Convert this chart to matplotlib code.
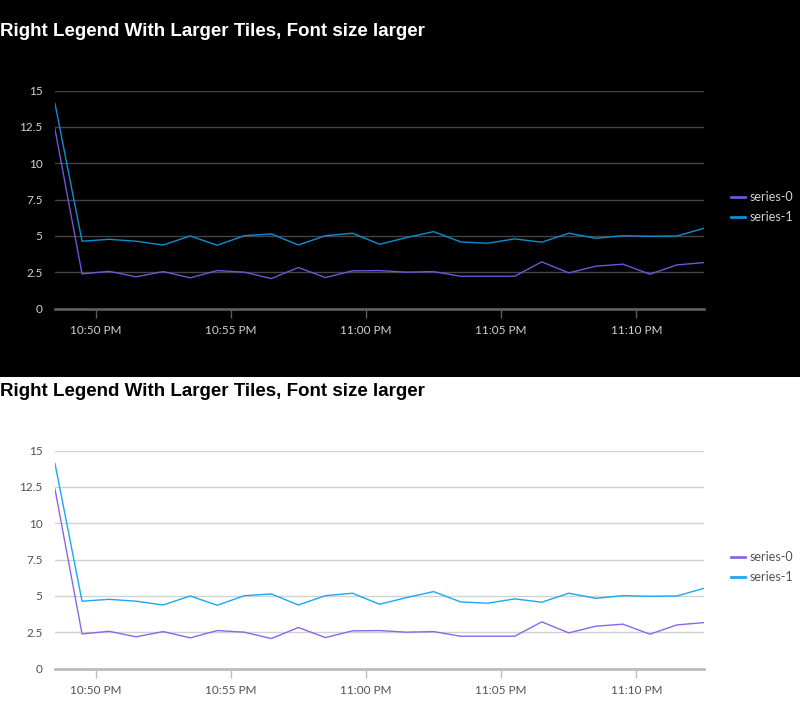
import datetime as dt
import matplotlib
matplotlib.use("Agg")
import matplotlib.pyplot as plt
import matplotlib.dates as mdates
from matplotlib.patches import Rectangle

# data: one point per minute, starting 10:48:30 PM
start = dt.datetime(2024, 1, 1, 22, 48, 30)
n_points = 25
times = [start + dt.timedelta(minutes=i) for i in range(n_points)]

series_0 = [12.34, 2.38, 2.56, 2.18, 2.54, 2.11, 2.61, 2.50, 2.06, 2.82, 2.13, 2.59, 2.61,
            2.50, 2.54, 2.22, 2.22, 2.22, 3.21, 2.45, 2.91, 3.05, 2.36, 3.00, 3.16]
series_1 = [14.10, 4.63, 4.76, 4.63, 4.37, 4.99, 4.35, 5.01, 5.13, 4.37, 5.01, 5.18, 4.42,
            4.88, 5.29, 4.58, 4.49, 4.79, 4.56, 5.18, 4.83, 5.01, 4.97, 4.99, 5.52]
series_names = ["series-0", "series-1"]
y_ticks = [0, 2.5, 5, 7.5, 10, 12.5, 15]
y_tick_labels = ["0", "2.5", "5", "7.5", "10", "12.5", "15"]
title = "Right Legend With Larger Tiles, Font size larger"

W, H = 800, 719
fig = plt.figure(figsize=(W / 100, H / 100), dpi=100)
fig.patch.set_facecolor("white")

# black background for the dark version
fig.add_artist(Rectangle((0, 1 - 377 / H), 1, 377 / H, transform=fig.transFigure,
                         facecolor="black", edgecolor="none", zorder=0))

themes = [
    dict(top=90.5, bottom=308.5, title_y=32, text="#d2d2d2", grid="#444444",
         axis="#5c5c5c", colors=["#7452db", "#0b8fd3"], title_color="white"),
    dict(top=450.5, bottom=668.5, title_y=391, text="#4f5255", grid="#d2d2d2",
         axis="#bcbcbc", colors=["#8a66ee", "#19a8f2"], title_color="black"),
]

left, right = 55, 704
for th in themes:
    ax = fig.add_axes([left / W, 1 - th["bottom"] / H, (right - left) / W,
                       (th["bottom"] - th["top"]) / H])
    ax.patch.set_alpha(0)
    for name, vals, c in zip(series_names, [series_0, series_1], th["colors"]):
        ax.plot(times, vals, color=c, lw=1, label=name, zorder=3)

    ax.set_xlim(times[0], times[-1])
    ax.set_ylim(0, 15)
    ax.set_yticks(y_ticks)
    ax.set_yticklabels(y_tick_labels)
    for y in y_ticks[1:]:
        ax.axhline(y, color=th["grid"], lw=1, zorder=1)
    ax.axhline(0, color=th["axis"], lw=2, zorder=2, clip_on=False)

    ax.xaxis.set_major_locator(mdates.MinuteLocator(byminute=range(0, 60, 5)))
    ax.xaxis.set_major_formatter(mdates.DateFormatter("%I:%M %p"))
    ax.tick_params(axis="x", length=6.5, width=1, color=th["axis"], pad=5.5,
                   labelcolor=th["text"], labelsize=8.5)
    ax.tick_params(axis="y", length=0, pad=9, labelcolor=th["text"], labelsize=8.5)
    for lab in ax.get_xticklabels() + ax.get_yticklabels():
        lab.set_fontfamily("Lato")
    for s in ax.spines.values():
        s.set_visible(False)

    leg = ax.legend(loc="center left", bbox_to_anchor=(1.024, 0.465), frameon=False,
                    handlelength=1.1, handletextpad=0.4, labelspacing=0.65,
                    prop={"family": "Lato", "size": 9})
    for t in leg.get_texts():
        t.set_color(th["text"])
    for h in leg.get_lines():
        h.set_linewidth(2)

    fig.text(0, 1 - th["title_y"] / H, title, ha="left", va="center",
             fontsize=13.5, fontweight="bold", family="Liberation Sans",
             color=th["title_color"])

fig.savefig("out.png", dpi=100, facecolor=fig.get_facecolor())
